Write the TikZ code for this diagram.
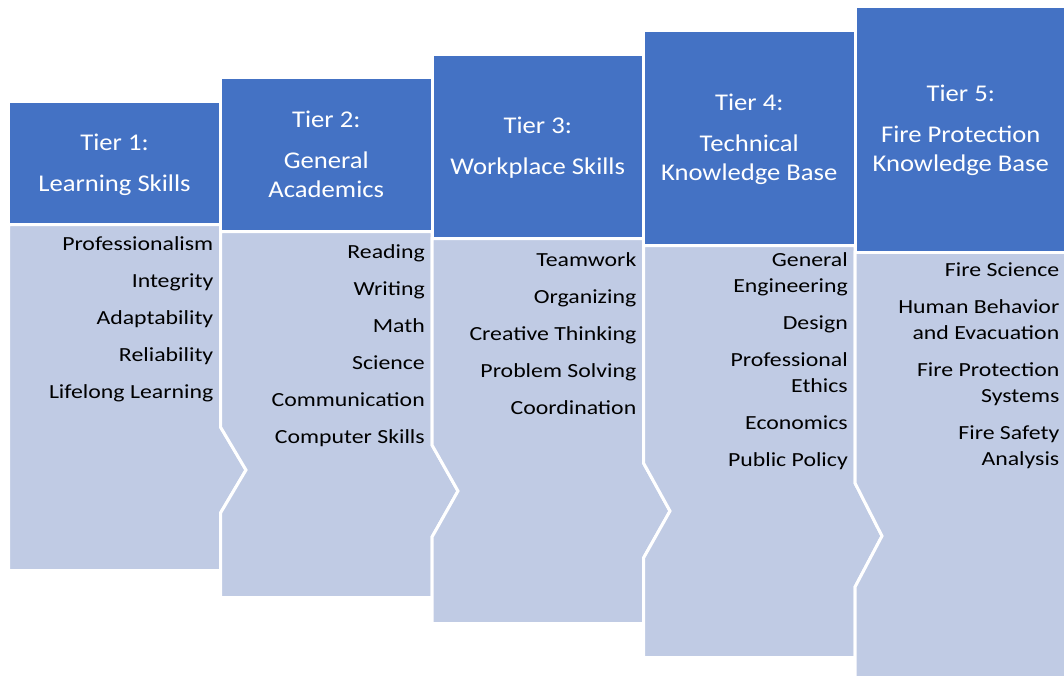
\documentclass[tikz,border=0pt]{standalone}
\usepackage{fontspec}
\setmainfont{Carlito}
\newfontfamily\hdrfont[FakeStretch=1.11]{Carlito}
\newfontfamily\itemfont[FakeStretch=1.19]{Carlito}
\definecolor{hdr}{RGB}{68,114,196}
\definecolor{bdy}{RGB}{192,203,228}
\begin{document}
\begin{tikzpicture}[x=1pt,y=-1pt,
  hdrbox/.style={fill=hdr,draw=white,line width=3pt},
  bodybox/.style={fill=bdy,draw=white,line width=3pt,line join=miter},
  hdrtext/.style={text=white,align=center,font=\hdrfont\fontsize{24}{29}\selectfont,inner sep=0pt},
  itemtext/.style={text=black,align=right,font=\itemfont\fontsize{20}{26}\selectfont,inner sep=0pt,anchor=north east}]
\useasboundingbox (0,0) rectangle (1064,675);
% bodies
\draw[bodybox] (8.5,224.5) -- (220.5,224.5) -- (220.5,427) -- (246,470) -- (220.5,513) -- (220.5,570.5) -- (8.5,570.5) -- cycle;
\draw[bodybox] (220.5,231.5) -- (432,231.5) -- (432,445) -- (458,491) -- (432,537) -- (432,597.5) -- (220.5,597.5) -- (220.5,513) -- (246,470) -- (220.5,427) -- cycle;
\draw[bodybox] (432,238.5) -- (643.5,238.5) -- (643.5,463) -- (670,511) -- (643.5,558) -- (643.5,623.5) -- (432,623.5) -- (432,537) -- (458,491) -- (432,445) -- cycle;
\draw[bodybox] (643.5,245.5) -- (855,245.5) -- (855,483) -- (882,536) -- (855,587) -- (855,657.5) -- (643.5,657.5) -- (643.5,558) -- (670,511) -- (643.5,463) -- cycle;
\draw[bodybox] (855,252) -- (1066.5,252) -- (1066.5,690) -- (855,690) -- (855,587) -- (882,536) -- (855,483) -- cycle;
% headers
\draw[hdrbox] (8.5,101.5) rectangle (220.5,224.5);
\draw[hdrbox] (220.5,77.5) rectangle (432,231.5);
\draw[hdrbox] (432,54.5) rectangle (643.5,238.5);
\draw[hdrbox] (643.5,30) rectangle (855,245.5);
\draw[hdrbox] (855,6) rectangle (1066.5,252);
% header texts
\node[hdrtext] (h1) at (114.5,164.5) {Tier 1:\\[12pt]Learning Skills};
\node[hdrtext] (h2) at (326.25,154) {Tier 2:\\[12pt]General\\Academics};
\node[hdrtext] (h3) at (537.75,148) {Tier 3:\\[12pt]Workplace Skills};
\node[hdrtext] (h4) at (749.25,139.25) {Tier 4:\\[12pt]Technical\\Knowledge Base};
\node[hdrtext] (h5) at (960.75,130.5) {Tier 5:\\[12pt]Fire Protection\\Knowledge Base};
% items
\node[itemtext] (b1) at (213.5,232) {\strut Professionalism\\[11pt]Integrity\\[11pt]Adaptability\\[11pt]Reliability\\[11pt]Lifelong Learning};
\node[itemtext] (b2) at (425,240) {\strut Reading\\[11pt]Writing\\[11pt]Math\\[11pt]Science\\[11pt]Communication\\[11pt]Computer Skills};
\node[itemtext] (b3) at (636.5,248) {\strut Teamwork\\[11pt]Organizing\\[11pt]Creative Thinking\\[11pt]Problem Solving\\[11pt]Coordination};
\node[itemtext] (b4) at (848,248) {\strut General\\Engineering\\[11pt]Design\\[11pt]Professional\\Ethics\\[11pt]Economics\\[11pt]Public Policy};
\node[itemtext] (b5) at (1059.5,258) {\strut Fire Science\\[11pt]Human Behavior\\and Evacuation\\[11pt]Fire Protection\\Systems\\[11pt]Fire Safety\\Analysis};
\end{tikzpicture}
\end{document}
